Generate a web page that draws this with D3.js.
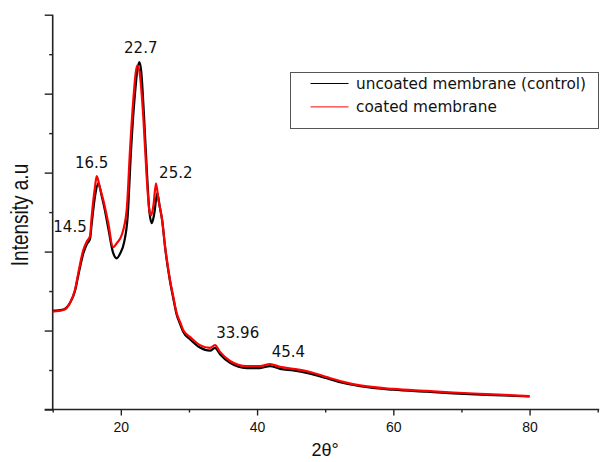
<!DOCTYPE html>
<html>
<head>
<meta charset="utf-8">
<script src="https://cdn.jsdelivr.net/npm/d3@7"></script>
<style>
  body { margin: 0; background: #fff; }
  svg { display: block; }
</style>
</head>
<body>
<svg id="chart" width="602" height="462"></svg>
<script>
// XRD pattern, uncoated vs coated membrane

// [2theta, intensity (a.u.)]
const uncoated = [
  [10.0, 2.50], [11.56, 2.53], [12.54, 2.70], [13.27, 3.00], [13.76, 3.40],
  [14.49, 3.95], [14.99, 4.18], [15.48, 4.32], [15.72, 4.70], [16.21, 5.40],
  [16.70, 5.73], [17.2, 5.40], [17.6, 5.10], [18.2, 4.55], [18.85, 3.98],
  [19.38, 3.83], [19.9, 3.95], [20.5, 4.25], [21.0, 4.88], [21.5, 6.57],
  [22.0, 7.84], [22.72, 8.80], [23.0, 8.55], [23.4, 7.45], [23.85, 5.95],
  [24.2, 5.0], [24.55, 4.72], [24.9, 4.95], [25.35, 5.48], [25.7, 5.15],
  [26.1, 4.75], [26.5, 4.10], [27.22, 3.25], [27.7, 2.82], [28.2, 2.40],
  [28.69, 2.17], [29.17, 1.96], [30.15, 1.78], [31.62, 1.57], [33.09, 1.49],
  [33.82, 1.56], [34.56, 1.40], [36.03, 1.18], [38.48, 1.05], [40.43, 1.05],
  [41.90, 1.10], [43.37, 1.03], [45.32, 0.99], [47.77, 0.91], [50.22, 0.79],
  [52.66, 0.67], [55.11, 0.59], [60.0, 0.50], [64.9, 0.45], [68.8, 0.41],
  [73.71, 0.37], [80.0, 0.33]
];

const coated = [
  [10.0, 2.48], [11.56, 2.52], [12.54, 2.70], [13.27, 3.03], [13.76, 3.46],
  [14.49, 4.04], [14.99, 4.25], [15.48, 4.39], [15.72, 4.88], [16.21, 5.64],
  [16.46, 5.91], [16.94, 5.61], [17.43, 5.30], [18.16, 4.72], [18.85, 4.11],
  [19.44, 4.22], [20.13, 4.42], [20.86, 5.05], [21.35, 6.57], [21.83, 7.84],
  [22.42, 8.72], [22.81, 8.47], [23.30, 7.41], [23.80, 5.89], [24.18, 5.05],
  [24.43, 4.92], [24.80, 5.18], [25.16, 5.73], [25.53, 5.30], [26.0, 4.88],
  [26.48, 4.16], [27.22, 3.28], [27.70, 2.86], [28.20, 2.44], [28.69, 2.22],
  [29.17, 2.01], [30.15, 1.84], [31.62, 1.63], [33.09, 1.56], [33.82, 1.63],
  [34.56, 1.46], [36.03, 1.23], [38.48, 1.10], [40.43, 1.10], [41.90, 1.15],
  [43.37, 1.08], [45.32, 1.03], [47.77, 0.95], [50.22, 0.82], [52.66, 0.70],
  [55.11, 0.61], [60.0, 0.52], [64.9, 0.47], [68.8, 0.43], [73.71, 0.39],
  [80.0, 0.34]
];

const seriesNames = ["uncoated membrane (control)", "coated membrane"];
const seriesColors = ["#000000", "#ff0000"];

const xMajorTicks = [20, 40, 60, 80];
const xMinorTicks = [10, 30, 50, 70, 90];
const yMajorTicks = [0, 2, 4, 6, 8, 10];
const yMinorTicks = [1, 3, 5, 7, 9];

// peak labels: text, and where the label sits (2theta, intensity)
const peakLabels = ["14.5", "16.5", "22.7", "25.2", "33.96", "45.4"];
const peakLabelTheta = [12.54, 15.72, 22.93, 28.07, 37.16, 44.59];
const peakLabelInt = [4.49, 6.11, 9.02, 5.87, 1.80, 1.34];

const svg = d3.select("#chart");

const x = d3.scaleLinear().domain([10, 90]).range([52.7, 597.7]);
const y = d3.scaleLinear().domain([0, 10]).range([409.5, 14.7]);

const AXIS_COLOR = "#222";

function styleAxis(g) {
  g.selectAll(".domain").remove();
  g.selectAll(".tick line").attr("stroke", AXIS_COLOR).attr("stroke-width", 1.4);
  g.selectAll(".tick text")
    .attr("fill", "#111")
    .style("font-family", "'Liberation Sans', Arial, sans-serif")
    .style("font-size", "14px");
}

// x axis
svg.append("g")
  .attr("transform", "translate(0," + y(0) + ")")
  .call(d3.axisBottom(x).tickValues(xMinorTicks).tickSize(3).tickFormat(""))
  .call(styleAxis);
svg.append("g")
  .attr("transform", "translate(0," + y(0) + ")")
  .call(d3.axisBottom(x).tickValues(xMajorTicks).tickSize(6).tickPadding(7).tickFormat(d3.format("d")))
  .call(styleAxis);

// y axis (no labels)
svg.append("g")
  .attr("transform", "translate(" + x(10) + ",0)")
  .call(d3.axisLeft(y).tickValues(yMajorTicks).tickSize(8).tickFormat(""))
  .call(styleAxis);
svg.append("g")
  .attr("transform", "translate(" + x(10) + ",0)")
  .call(d3.axisLeft(y).tickValues(yMinorTicks).tickSize(3.5).tickFormat(""))
  .call(styleAxis);

// axis lines
svg.append("line")
  .attr("x1", x(10) - 8).attr("x2", x(90) + 1.5)
  .attr("y1", y(0)).attr("y2", y(0))
  .attr("stroke", AXIS_COLOR).attr("stroke-width", 1.6);
svg.append("line")
  .attr("x1", x(10)).attr("x2", x(10))
  .attr("y1", y(10)).attr("y2", y(0) + 1)
  .attr("stroke", AXIS_COLOR).attr("stroke-width", 1.6);

// curves
const line = d3.line()
  .x(d => x(d[0]))
  .y(d => y(d[1]))
  .curve(d3.curveMonotoneX);

[uncoated, coated].forEach((data, i) => {
  svg.append("path")
    .datum(data)
    .attr("d", line)
    .attr("fill", "none")
    .attr("stroke", seriesColors[i])
    .attr("stroke-width", 2.2)
    .attr("stroke-linejoin", "round");
});

// peak labels
svg.append("g").selectAll("text")
  .data(peakLabels)
  .join("text")
  .attr("x", (d, i) => x(peakLabelTheta[i]))
  .attr("y", (d, i) => y(peakLabelInt[i]))
  .attr("text-anchor", "middle")
  .attr("fill", "#111")
  .style("font-family", "'DejaVu Sans', sans-serif")
  .style("font-size", "15px")
  .text(d => d);

// axis titles
svg.append("text")
  .attr("x", (x(10) + x(90)) / 2)
  .attr("y", 456)
  .attr("text-anchor", "middle")
  .attr("fill", "#111")
  .style("font-family", "'Liberation Sans', Arial, sans-serif")
  .style("font-size", "18px")
  .text("2θ°");

svg.append("text")
  .attr("transform", "translate(28,215) scale(1.25,1) rotate(-90)")
  .attr("text-anchor", "middle")
  .attr("fill", "#111")
  .style("font-family", "'Liberation Sans', Arial, sans-serif")
  .style("font-size", "19px")
  .text("Intensity a.u");

// legend
const legend = svg.append("g").attr("transform", "translate(290.5,72.5)");
legend.append("rect")
  .attr("width", 308).attr("height", 56)
  .attr("fill", "#fff")
  .attr("stroke", "#555").attr("stroke-width", 1);

seriesNames.forEach((name, i) => {
  const yy = 11 + i * 23.4;
  legend.append("line")
    .attr("x1", 20).attr("x2", 58)
    .attr("y1", yy).attr("y2", yy)
    .attr("stroke", seriesColors[i]).attr("stroke-width", 1);
  legend.append("text")
    .attr("x", 65.5).attr("y", yy + 5.3)
    .attr("fill", "#111")
    .style("font-family", "'DejaVu Sans', sans-serif")
    .style("font-size", "15.3px")
    .text(name);
});
</script>
</body>
</html>
